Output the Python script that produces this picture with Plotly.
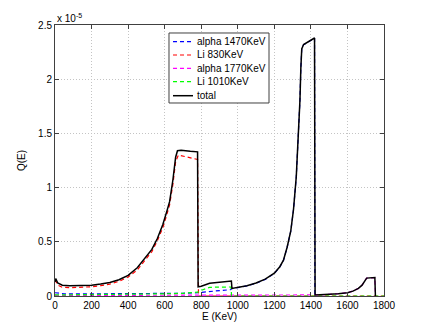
import plotly.graph_objects as go

# Values in units of 1e-5
E_total = [0, 4, 15, 40, 80, 150, 200, 250, 300, 350, 400, 450, 500, 530, 560, 590, 610, 627, 645, 660, 670, 690, 740, 780,
           783, 800, 846, 900, 965, 968, 1000, 1050, 1100, 1150, 1200, 1230, 1250, 1270, 1290, 1305, 1320, 1330, 1340,
           1345, 1350, 1360, 1400, 1420, 1423, 1450, 1500, 1550, 1600, 1630, 1660, 1680, 1695, 1705, 1750, 1753]
Q_total = [0.13, 0.16, 0.12, 0.1, 0.095, 0.095, 0.10, 0.11, 0.125, 0.15, 0.19, 0.26, 0.36, 0.43, 0.53, 0.66, 0.77, 0.87, 1.07, 1.28, 1.34, 1.345, 1.335, 1.33,
           0.085, 0.09, 0.117, 0.125, 0.138, 0.07, 0.08, 0.095, 0.12, 0.155, 0.21, 0.27, 0.33, 0.45, 0.6, 0.8, 1.1, 1.4, 1.8,
           2.1, 2.28, 2.32, 2.36, 2.38, 0.01, 0.01, 0.015, 0.02, 0.03, 0.045, 0.07, 0.1, 0.14, 0.165, 0.17, 0.0]

E_alpha1470 = [0, 50, 200, 400, 600, 700, 780, 800, 900, 960, 968, 1000, 1050, 1100, 1150, 1200, 1230, 1250, 1270, 1290,
               1305, 1320, 1330, 1340, 1345, 1350, 1360, 1400, 1420, 1422]
Q_alpha1470 = [0.03, 0.02, 0.02, 0.02, 0.02, 0.025, 0.03, 0.034, 0.05, 0.058, 0.068, 0.078, 0.093, 0.118, 0.153, 0.208, 0.268, 0.328, 0.448, 0.598,
               0.798, 1.098, 1.398, 1.798, 2.098, 2.278, 2.318, 2.358, 2.378, 0.0]

E_li830 = [0, 4, 15, 40, 80, 150, 200, 250, 300, 350, 400, 450, 500, 530, 560, 590, 610, 627, 645, 660, 675, 700, 740, 780, 785, 1800]
Q_li830 = [0.13, 0.14, 0.1, 0.08, 0.077, 0.08, 0.085, 0.095, 0.11, 0.135, 0.175, 0.24, 0.34, 0.41, 0.51, 0.63, 0.74, 0.84, 1.03, 1.24, 1.30, 1.29, 1.275, 1.26, 0.0, 0.0]

E_alpha1770 = [0, 400, 800, 1200, 1420, 1423, 1450, 1500, 1550, 1600, 1630, 1660, 1680, 1695, 1705, 1750, 1753]
Q_alpha1770 = [0.005, 0.005, 0.006, 0.007, 0.008, 0.01, 0.01, 0.015, 0.02, 0.03, 0.045, 0.07, 0.1, 0.14, 0.165, 0.17, 0.0]

E_li1010 = [0, 200, 400, 600, 700, 780, 790, 846, 900, 963, 966, 1800]
Q_li1010 = [0.01, 0.012, 0.015, 0.02, 0.025, 0.035, 0.046, 0.08, 0.082, 0.083, 0.0, 0.0]

x_ticks = [0, 200, 400, 600, 800, 1000, 1200, 1400, 1600, 1800]
y_ticks = [0, 0.5, 1, 1.5, 2, 2.5]
y_ticklabels = ["0", "0.5", "1", "1.5", "2", "2.5"]

series = [
    ("alpha 1470KeV", E_alpha1470, Q_alpha1470, "#0000ff", "4px,3px", 1.2),
    ("Li 830KeV", E_li830, Q_li830, "#ff0000", "4px,3px", 1.2),
    ("alpha 1770KeV", E_alpha1770, Q_alpha1770, "#ff00ff", "4px,3px", 1.2),
    ("Li 1010KeV", E_li1010, Q_li1010, "#00ff00", "4px,3px", 1.2),
    ("total", E_total, Q_total, "#000000", "solid", 1.5),
]

fig = go.Figure()
for name, xs, ys, col, dash, w in series:
    fig.add_trace(go.Scatter(x=xs, y=ys, mode="lines", name=name,
                             line=dict(color=col, dash=dash, width=w), showlegend=False))

axis_common = dict(showline=True, linecolor="#404040", linewidth=1, mirror="ticks", ticks="inside",
                   ticklen=4, tickcolor="#404040", showgrid=True, gridcolor="#c4c4c4", griddash="1px,2px",
                   gridwidth=1, zeroline=False, tickfont=dict(size=10, color="#000"))
fig.update_xaxes(range=[0, 1800], tickvals=x_ticks, title=dict(text="E (KeV)", font=dict(size=10, color="#000"), standoff=2),
                 **axis_common)
fig.update_yaxes(range=[0, 2.5], tickvals=y_ticks, ticktext=y_ticklabels,
                 title=dict(text="Q(E)", font=dict(size=10, color="#000"), standoff=10), **axis_common)

fig.add_annotation(text="x 10<sup>-5</sup>", xref="paper", yref="paper", x=0, y=1.0, xanchor="left", yanchor="bottom",
                   showarrow=False, font=dict(size=10, color="#000"), yshift=-1)

# Custom legend (Matlab style, compact)
leg_x0, leg_x1, leg_y0, leg_y1 = 0.3465, 0.6505, 0.7122, 0.9705
fig.add_shape(type="rect", xref="paper", yref="paper", x0=leg_x0, x1=leg_x1, y0=leg_y0, y1=leg_y1,
              line=dict(color="#404040", width=1), fillcolor="white", layer="above")
entry_y = [0.9384, 0.8893, 0.8402, 0.7908, 0.7391]
for (name, xs, ys, col, dash, w), yy in zip(series, entry_y):
    fig.add_shape(type="line", xref="paper", yref="paper", x0=0.3587, x1=0.4195, y0=yy, y1=yy,
                  line=dict(color=col, dash=dash, width=w), layer="above")
    fig.add_annotation(text=name, xref="paper", yref="paper", x=0.4255, y=yy, xanchor="left", yanchor="middle",
                       showarrow=False, font=dict(size=10, color="#000"))

fig.update_layout(
    width=425, height=333,
    margin=dict(l=55, r=41, t=25, b=37),
    paper_bgcolor="white", plot_bgcolor="white",
    font=dict(family="Liberation Sans, Arial, sans-serif", size=10, color="#000"),
    showlegend=False,
)

fig.write_html("out.html", config={"displayModeBar": False},
               post_script="document.body.style.margin='0';")
